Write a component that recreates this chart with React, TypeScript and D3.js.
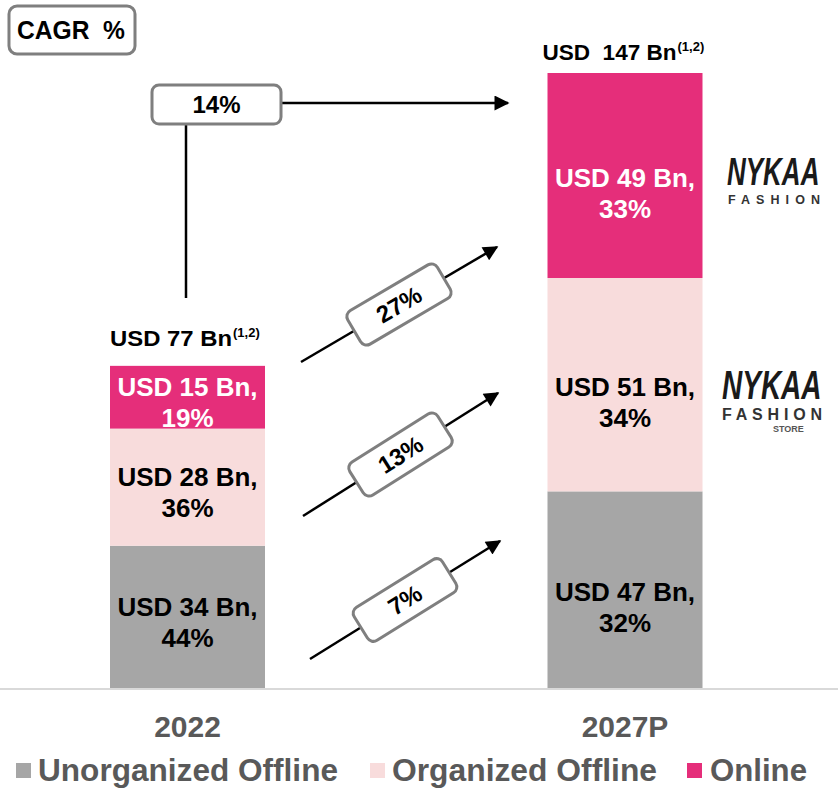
import React from "react";
import * as d3 from "d3";

const categories = ["2022", "2027P"];
const seriesKeys = ["unorganized", "organized", "online"];
const seriesNames = ["Unorganized Offline", "Organized Offline", "Online"];
const unorganized = [34, 47];
const organized = [28, 51];
const online = [15, 49];
const unorganizedPct = [44, 32];
const organizedPct = [36, 34];
const onlinePct = [19, 33];
const totals = [77, 147];
const totalLabels = ["USD 77 Bn", "USD\u00A0\u00A0147 Bn"];
const segmentCagr = ["7%", "13%", "27%"];
const overallCagr = "14%";

const COLORS: Record<string, string> = {
  unorganized: "#A6A6A6",
  organized: "#F8DCDC",
  online: "#E52E7A",
};
const TEXT_COLORS: Record<string, string> = {
  unorganized: "#000",
  organized: "#000",
  online: "#fff",
};

const W = 838;
const H = 788;
const BASE = 688;
const BAR_W = 155;
const ARIAL = "Liberation Sans, Arial, sans-serif";

export default function App() {
  const y = d3.scaleLinear().domain([0, 147]).range([BASE, 73]);
  const x = d3.scalePoint<string>().domain(categories).range([187.5, 625]);

  const rows = categories.map((c, i) => ({
    cat: c,
    unorganized: unorganized[i],
    organized: organized[i],
    online: online[i],
  }));
  const pcts: Record<string, number[]> = {
    unorganized: unorganizedPct,
    organized: organizedPct,
    online: onlinePct,
  };
  const stack = d3.stack<any>().keys(seriesKeys)(rows);
  const colTextOffset = [-1, 11];
  const totalOffset = [-20, -13];
  const totalWidth = [122, 134];
  const totalShift = [0, -5];

  // diagonal CAGR arrows (bottom to top: unorganized, organized, online)
  const arrows = [
    { x1: 310, y1: 659, x2: 500, y2: 541 },
    { x1: 303, y1: 516, x2: 498, y2: 393 },
    { x1: 301, y1: 362, x2: 497, y2: 247 },
  ];

  const legendItems = [
    { sx: 16, tx: 38, tw: 300 },
    { sx: 370, tx: 392, tw: 265 },
    { sx: 687, tx: 710, tw: 97 },
  ];

  return (
    <svg
      width={W}
      height={H}
      style={{ position: "absolute", left: 0, top: 0, background: "#fff" }}
    >
      <defs>
        <marker
          id="ah"
          viewBox="0 0 10 10"
          refX="9"
          refY="5"
          markerWidth="7"
          markerHeight="6"
          markerUnits="strokeWidth"
          orient="auto"
        >
          <path d="M0,0 L10,5 L0,10 z" fill="#000" />
        </marker>
      </defs>

      {/* bars */}
      {stack.map((s) =>
        s.map((d, i) => {
          const cx = x(categories[i])!;
          const y0 = y(d[0]);
          const y1 = y(d[1]);
          const mid = (y0 + y1) / 2;
          const key = s.key;
          const val = (d.data as any)[key];
          const b1 = mid + colTextOffset[i];
          return (
            <g key={key + i}>
              <rect
                x={cx - BAR_W / 2}
                y={y1}
                width={BAR_W}
                height={y0 - y1}
                fill={COLORS[key]}
              />
              <text
                x={cx}
                y={b1}
                textAnchor="middle"
                fontFamily={ARIAL}
                fontWeight="bold"
                fontSize={26}
                fill={TEXT_COLORS[key]}
              >
                {`USD ${val} Bn,`}
              </text>
              <text
                x={cx}
                y={b1 + 31}
                textAnchor="middle"
                fontFamily={ARIAL}
                fontWeight="bold"
                fontSize={26}
                fill={TEXT_COLORS[key]}
              >
                {`${pcts[key][i]}%`}
              </text>
            </g>
          );
        })
      )}

      {/* total labels */}
      {categories.map((c, i) => {
        const tx = x(c)! - BAR_W / 2 + totalShift[i];
        const ty = y(totals[i]) + totalOffset[i];
        return (
          <g key={"tot" + c}>
            <text
              x={tx}
              y={ty}
              fontFamily={ARIAL}
              fontWeight="bold"
              fontSize={22}
              fill="#000"
              textLength={totalWidth[i]}
              lengthAdjust="spacingAndGlyphs"
            >
              {totalLabels[i]}
            </text>
            <text
              x={tx + totalWidth[i] + 1}
              y={ty - 9}
              fontFamily={ARIAL}
              fontWeight="bold"
              fontSize={13}
              fill="#000"
            >
              (1,2)
            </text>
          </g>
        );
      })}

      {/* axis line */}
      <line x1={0} x2={W} y1={BASE + 1} y2={BASE + 1} stroke="#D9D9D9" strokeWidth={2} />

      {/* category labels */}
      {categories.map((c) => (
        <text
          key={"cat" + c}
          x={x(c)}
          y={737}
          textAnchor="middle"
          fontFamily={ARIAL}
          fontWeight="bold"
          fontSize={30}
          fill="#595959"
        >
          {c}
        </text>
      ))}

      {/* legend */}
      {seriesKeys.map((k, i) => (
        <g key={"lg" + k}>
          <rect x={legendItems[i].sx} y={763} width={15} height={15} fill={COLORS[k]} />
          <text
            x={legendItems[i].tx}
            y={781}
            fontFamily={ARIAL}
            fontWeight="bold"
            fontSize={31}
            fill="#595959"
            textLength={legendItems[i].tw}
            lengthAdjust="spacingAndGlyphs"
          >
            {seriesNames[i]}
          </text>
        </g>
      ))}

      {/* CAGR % box */}
      <rect x={9} y={6} width={126} height={48} rx={8} fill="#fff" stroke="#7F7F7F" strokeWidth={3} />
      <text
        x={17}
        y={39}
        fontFamily={ARIAL}
        fontWeight="bold"
        fontSize={25}
        fill="#000"
        textLength={108}
        lengthAdjust="spacingAndGlyphs"
      >
        CAGR{"\u00A0\u00A0"}%
      </text>

      {/* overall CAGR */}
      <line x1={186} y1={124} x2={186} y2={298} stroke="#000" strokeWidth={2.5} />
      <line x1={282} y1={103} x2={508} y2={103} stroke="#000" strokeWidth={2.5} markerEnd="url(#ah)" />
      <rect x={152} y={85} width={129} height={39} rx={7} fill="#fff" stroke="#7F7F7F" strokeWidth={3} />
      <text x={216.5} y={113} textAnchor="middle" fontFamily={ARIAL} fontWeight="bold" fontSize={24} fill="#000">
        {overallCagr}
      </text>

      {/* segment CAGR arrows */}
      {arrows.map((a, i) => {
        const mx = (a.x1 + a.x2) / 2;
        const my = (a.y1 + a.y2) / 2;
        const ang = (Math.atan2(a.y2 - a.y1, a.x2 - a.x1) * 180) / Math.PI;
        return (
          <g key={"arr" + i}>
            <line x1={a.x1} y1={a.y1} x2={a.x2} y2={a.y2} stroke="#000" strokeWidth={2.5} markerEnd="url(#ah)" />
            <g transform={`translate(${mx},${my}) rotate(${ang})`}>
              <rect x={-52} y={-19.5} width={104} height={39} rx={7} fill="#fff" stroke="#7F7F7F" strokeWidth={3} />
              <text
                x={0}
                y={8.5}
                textAnchor="middle"
                fontFamily={ARIAL}
                fontWeight="bold"
                fontSize={24}
                fill="#000"
              >
                {segmentCagr[i]}
              </text>
            </g>
          </g>
        );
      })}

      {/* logos */}
      <g>
        <text
          transform="translate(727,185) scale(1,1.5)"
          x={0}
          y={0}
          fontFamily={ARIAL}
          fontWeight="bold"
          fontStyle="italic"
          fontSize={26}
          fill="#1a1a1a"
        >
          NYKAA
        </text>
        <text
          x={728}
          y={204}
          fontFamily={ARIAL}
          fontWeight="bold"
          fontSize={12.5}
          fill="#333"
          textLength={92}
          lengthAdjust="spacing"
        >
          FASHION
        </text>
      </g>
      <g>
        <text
          transform="translate(722,399) scale(1,1.45)"
          x={0}
          y={0}
          fontFamily={ARIAL}
          fontWeight="bold"
          fontStyle="italic"
          fontSize={28}
          fill="#1a1a1a"
        >
          NYKAA
        </text>
        <text
          x={722}
          y={420}
          fontFamily={ARIAL}
          fontWeight="bold"
          fontSize={16}
          fill="#333"
          textLength={100}
          lengthAdjust="spacing"
        >
          FASHION
        </text>
        <text x={773} y={432} fontFamily={ARIAL} fontWeight="bold" fontSize={9} fill="#555">
          STORE
        </text>
      </g>
    </svg>
  );
}
